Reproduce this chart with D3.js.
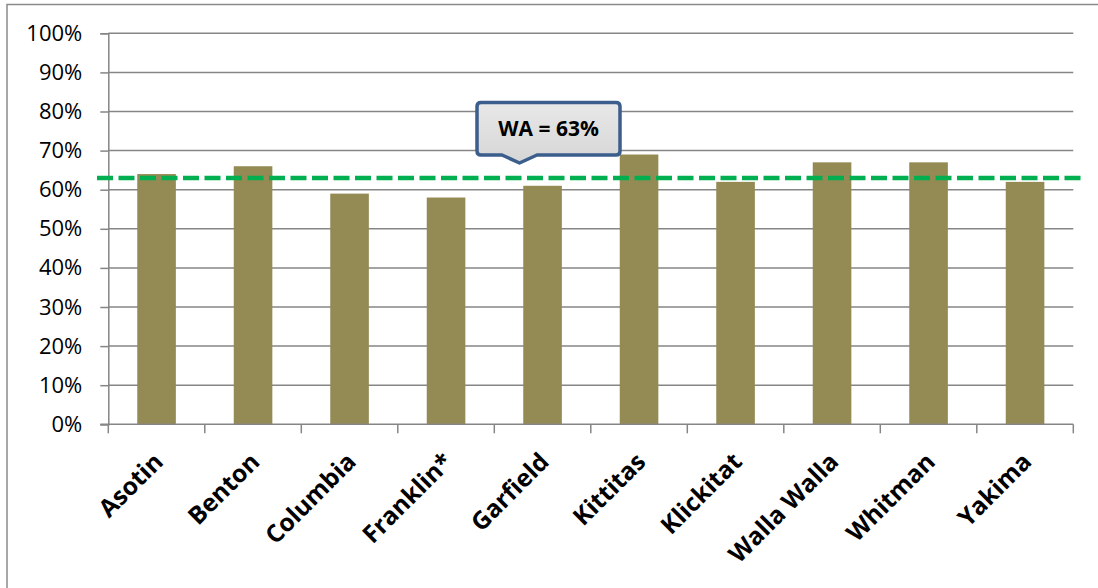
<!DOCTYPE html>
<html>
<head>
<meta charset="utf-8">
<script src="https://cdn.jsdelivr.net/npm/d3@7"></script>
<style>
  html, body { margin: 0; padding: 0; background: #fff; }
  svg { display: block; }
</style>
</head>
<body>
<svg id="chart" width="1098" height="588"></svg>
<script>
// County shares, with the statewide reference value
const counties = ["Asotin", "Benton", "Columbia", "Franklin*", "Garfield", "Kittitas", "Klickitat", "Walla Walla", "Whitman", "Yakima"];
const shares = [64, 66, 59, 58, 61, 69, 62, 67, 67, 62];
const stateValue = 63;
const stateLabel = "WA = 63%";
const yTicks = [0, 10, 20, 30, 40, 50, 60, 70, 80, 90, 100];

const svg = d3.select("#chart");
const W = 1098, H = 588;
const plot = { left: 108.3, right: 1073.3, top: 33.3, bottom: 424.3 };
const gridColor = "#868686";

// outer frame (top and left edges)
svg.append("path")
  .attr("d", `M7,${H} L7,4.5 L${W},4.5`)
  .attr("fill", "none").attr("stroke", "#8a8a8a").attr("stroke-width", 1.5);

const x = d3.scaleBand().domain(counties).range([plot.left, plot.right]).paddingInner(0.6).paddingOuter(0.3);
const xEdge = d3.scaleLinear().domain([0, counties.length]).range([plot.left, plot.right]);
const y = d3.scaleLinear().domain([0, 100]).range([plot.bottom, plot.top]);

// horizontal gridlines
svg.append("g").selectAll("line").data(yTicks.filter(d => d > 0)).join("line")
  .attr("x1", plot.left).attr("x2", plot.right)
  .attr("y1", d => y(d)).attr("y2", d => y(d))
  .attr("stroke", gridColor).attr("stroke-width", 1.5);

// y axis
const yAxis = svg.append("g").attr("transform", `translate(${plot.left},0)`)
  .call(d3.axisLeft(y).tickValues(yTicks).tickFormat(d => d + "%").tickSize(8).tickPadding(18));
yAxis.select(".domain").attr("stroke", gridColor).attr("stroke-width", 1.5);
yAxis.selectAll(".tick line").attr("stroke", gridColor).attr("stroke-width", 1.5);
yAxis.selectAll("text")
  .attr("font-family", "'Open Sans', sans-serif").attr("font-size", 22).attr("fill", "#000");

// bars
svg.append("g").selectAll("rect").data(counties).join("rect")
  .attr("x", d => x(d)).attr("width", x.bandwidth())
  .attr("y", (d, i) => y(shares[i]))
  .attr("height", (d, i) => y(0) - y(shares[i]))
  .attr("fill", "#948a54");

// x axis line with category boundary ticks
svg.append("line")
  .attr("x1", plot.left - 8).attr("x2", plot.right)
  .attr("y1", y(0)).attr("y2", y(0))
  .attr("stroke", gridColor).attr("stroke-width", 1.5);
svg.append("g").selectAll("line").data(d3.range(counties.length + 1)).join("line")
  .attr("x1", d => xEdge(d)).attr("x2", d => xEdge(d))
  .attr("y1", y(0)).attr("y2", y(0) + 9)
  .attr("stroke", gridColor).attr("stroke-width", 1.5);

// rotated category labels
svg.append("g").selectAll("text").data(counties).join("text")
  .attr("transform", d => `translate(${x(d) + x.bandwidth() / 2 + 8},${y(0) + 39}) rotate(-45)`)
  .attr("text-anchor", "end")
  .attr("font-family", "'Open Sans', sans-serif").attr("font-weight", "bold")
  .attr("font-size", 24.5).attr("fill", "#000")
  .text(d => d);

// statewide reference line
svg.append("line")
  .attr("x1", 97).attr("x2", 1086)
  .attr("y1", y(stateValue)).attr("y2", y(stateValue))
  .attr("stroke", "#00b050").attr("stroke-width", 4.5)
  .attr("stroke-dasharray", "16,5.5");

// callout box with pointer
const defs = svg.append("defs");
const grad = defs.append("linearGradient").attr("id", "calloutFill").attr("x1", 0).attr("y1", 0).attr("x2", 0).attr("y2", 1);
grad.append("stop").attr("offset", "0%").attr("stop-color", "#e8e8e8");
grad.append("stop").attr("offset", "100%").attr("stop-color", "#d6d6d6");

const bx0 = 477, bx1 = 620, by0 = 102.5, by1 = 155, r = 4;
const px0 = 502, px1 = 537, ptx = 519.5, pty = 163;
const calloutPath = [
  `M${bx0 + r},${by0}`,
  `L${bx1 - r},${by0}`, `Q${bx1},${by0} ${bx1},${by0 + r}`,
  `L${bx1},${by1 - r}`, `Q${bx1},${by1} ${bx1 - r},${by1}`,
  `L${px1},${by1}`, `L${ptx},${pty}`, `L${px0},${by1}`,
  `L${bx0 + r},${by1}`, `Q${bx0},${by1} ${bx0},${by1 - r}`,
  `L${bx0},${by0 + r}`, `Q${bx0},${by0} ${bx0 + r},${by0}`, "Z"
].join(" ");
svg.append("path").attr("d", calloutPath)
  .attr("fill", "url(#calloutFill)").attr("stroke", "#3b5e8c").attr("stroke-width", 3.5)
  .attr("stroke-linejoin", "round");
svg.append("text")
  .attr("x", (bx0 + bx1) / 2).attr("y", 136)
  .attr("text-anchor", "middle")
  .attr("font-family", "'Open Sans', sans-serif").attr("font-weight", "bold")
  .attr("font-size", 21).attr("fill", "#000")
  .text(stateLabel);
</script>
</body>
</html>
